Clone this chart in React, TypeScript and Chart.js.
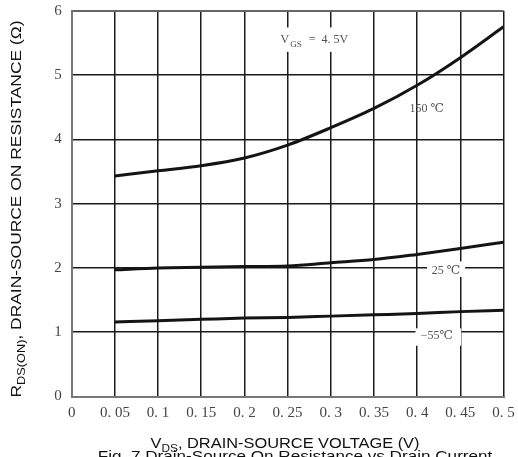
import React, { useEffect, useRef } from "react";
import { Chart, registerables } from "chart.js";

Chart.register(...registerables);

const vdsValues = [0.05, 0.1, 0.15, 0.2, 0.25, 0.3, 0.35, 0.4, 0.45, 0.5];
const r150 = [3.43, 3.51, 3.59, 3.71, 3.91, 4.18, 4.48, 4.84, 5.27, 5.75];
const r25 = [1.97, 2.0, 2.01, 2.02, 2.03, 2.08, 2.13, 2.21, 2.3, 2.4];
const rm55 = [1.16, 1.18, 1.2, 1.22, 1.23, 1.25, 1.27, 1.29, 1.32, 1.34];
const seriesLabels = ["150 ℃", "25 ℃", "−55℃"];
const yTicks = [0, 1, 2, 3, 4, 5, 6];

const SERIF = "'Liberation Serif', 'DejaVu Serif', serif";
const SANS = "'Liberation Sans', Arial, sans-serif";

function fmtX(v: number): string {
  const r = Math.round(v * 100) / 100;
  if (r === 0) return "0";
  return r.toString().replace(".", ". ");
}

const annotPlugin = {
  id: "annot",
  afterDraw(chart: any) {
    const ctx = chart.ctx as CanvasRenderingContext2D;
    const xs = chart.scales.x;
    const ys = chart.scales.y;
    const px = (v: number) => xs.getPixelForValue(v);
    const py = (v: number) => ys.getPixelForValue(v);
    ctx.save();

    // white boxes breaking grid lines
    const box = (x0: number, x1: number, y0: number, y1: number) => {
      ctx.fillStyle = "#ffffff";
      const a = px(x0), b = px(x1), c = py(y0), d = py(y1);
      ctx.fillRect(a, d, b - a, c - d);
    };
    box(0.241, 0.32, 5.36, 5.74);
    box(0.4065, 0.4435, 4.3, 4.62);
    box(0.4115, 0.4555, 1.86, 2.1);
    box(0.398, 0.451, 0.79, 1.06);

    ctx.fillStyle = "#555";
    ctx.textBaseline = "middle";
    ctx.textAlign = "center";
    ctx.font = "12px " + SERIF;
    ctx.fillText(seriesLabels[0], px(0.4112), py(4.48));
    ctx.fillText(seriesLabels[1], px(0.4335), py(1.95));
    ctx.fillText(seriesLabels[2], px(0.4228), py(0.94));

    // V_GS = 4.5V
    {
      ctx.textAlign = "left";
      const cx = px(0.2804), cy = py(5.53);
      ctx.font = "12px " + SERIF;
      const wV = ctx.measureText("V").width;
      const rest = "  =  4. 5V";
      const wR = ctx.measureText(rest).width;
      ctx.font = "9px " + SERIF;
      const wS = ctx.measureText("GS").width + 1;
      let x = cx - (wV + wS + wR) / 2;
      ctx.font = "12px " + SERIF;
      ctx.fillText("V", x, cy - 1);
      x += wV + 1;
      ctx.font = "9px " + SERIF;
      ctx.fillText("GS", x, cy + 4);
      x += wS;
      ctx.font = "12px " + SERIF;
      ctx.fillText(rest, x, cy - 1);
    }

    const subTitle = (
      main: string,
      sub: string,
      rest: string,
      bigPx: number,
      smallPx: number,
      stretch: number,
      subDrop: number
    ) => {
      // draws centred at current origin (0,0) baseline
      const big = bigPx + "px " + SANS;
      const small = smallPx + "px " + SANS;
      ctx.font = big;
      const w1 = ctx.measureText(main).width;
      const w3 = ctx.measureText(rest).width;
      ctx.font = small;
      const w2 = ctx.measureText(sub).width;
      const total = w1 + w2 + w3;
      ctx.save();
      ctx.scale(stretch, 1);
      let x = -total / 2;
      ctx.font = big;
      ctx.fillText(main, x, 0);
      x += w1;
      ctx.font = small;
      ctx.fillText(sub, x, subDrop);
      x += w2;
      ctx.font = big;
      ctx.fillText(rest, x, 0);
      ctx.restore();
    };

    // X axis title
    ctx.fillStyle = "#111";
    ctx.textBaseline = "alphabetic";
    ctx.textAlign = "left";
    ctx.save();
    ctx.translate(285, 448);
    subTitle("V", "DS", ", DRAIN-SOURCE VOLTAGE (V)", 14.5, 10.5, 1.13, 4);
    ctx.restore();

    // Caption (clipped at bottom)
    ctx.save();
    ctx.translate(295, 461);
    ctx.scale(1.18, 1);
    ctx.font = "14.5px " + SANS;
    ctx.textAlign = "center";
    ctx.fillText("Fig. 7 Drain-Source On Resistance vs Drain Current", 0, 0);
    ctx.restore();

    // Y axis title (rotated)
    ctx.save();
    ctx.translate(20.5, 209);
    ctx.rotate(-Math.PI / 2);
    subTitle("R", "DS(ON)", ", DRAIN-SOURCE ON RESISTANCE (Ω)", 15, 11, 1.16, 4);
    ctx.restore();

    ctx.restore();
  },
};

export default function App() {
  const ref = useRef<HTMLCanvasElement | null>(null);
  useEffect(() => {
    if (!ref.current) return;
    const mk = (vals: number[]) => vdsValues.map((x, i) => ({ x, y: vals[i] }));
    const lineDs = (label: string, vals: number[]) => ({
      label,
      data: mk(vals),
      borderColor: "#141414",
      borderWidth: 3,
      pointRadius: 0,
      fill: false,
      cubicInterpolationMode: "monotone" as const,
    });
    const chart = new Chart(ref.current, {
      type: "line",
      data: {
        datasets: [
          lineDs(seriesLabels[0], r150),
          lineDs(seriesLabels[1], r25),
          lineDs(seriesLabels[2], rm55),
        ],
      },
      options: {
        responsive: false,
        animation: false,
        layout: { padding: { top: 10.7, right: 14.5, left: 0, bottom: 0 } },
        plugins: { legend: { display: false }, tooltip: { enabled: false } },
        scales: {
          x: {
            type: "linear",
            min: 0,
            max: 0.5,
            afterFit: (s: any) => {
              s.height = 60.5;
              s.paddingLeft = 0;
              s.paddingRight = 0;
            },
            ticks: {
              stepSize: 0.05,
              padding: 8,
              color: "#444",
              font: { family: SERIF, size: 15 },
              callback: (v: any) => fmtX(Number(v)),
              maxRotation: 0,
              autoSkip: false,
            },
            grid: {
              drawTicks: false,
              color: (c: any) => (c.tick && c.tick.value === 0 ? "#777" : "#1a1a1a"),
              lineWidth: (c: any) => (c.tick && c.tick.value === 0 ? 2 : 1.5),
            },
            border: { display: true, color: "#777", width: 2 },
          },
          y: {
            type: "linear",
            min: yTicks[0],
            max: yTicks[yTicks.length - 1],
            afterFit: (s: any) => {
              s.width = 71.7;
              s.paddingTop = 0;
              s.paddingBottom = 0;
            },
            ticks: {
              stepSize: 1,
              padding: 10,
              color: "#444",
              font: { family: SERIF, size: 15 },
            },
            grid: {
              drawTicks: false,
              color: (c: any) => (c.tick && (c.tick.value === 0 || c.tick.value === 6) ? "#666" : "#1a1a1a"),
              lineWidth: (c: any) => (c.tick && (c.tick.value === 0 || c.tick.value === 6) ? 2 : 1.5),
            },
            border: { display: true, color: "#777", width: 2 },
          },
        },
      },
      plugins: [annotPlugin],
    });
    return () => chart.destroy();
  }, []);
  return (
    <div style={{ position: "absolute", left: 0, top: 0, width: 518, height: 457, background: "#fff", overflow: "hidden" }}>
      <canvas ref={ref} width={518} height={457} style={{ display: "block" }} />
    </div>
  );
}
